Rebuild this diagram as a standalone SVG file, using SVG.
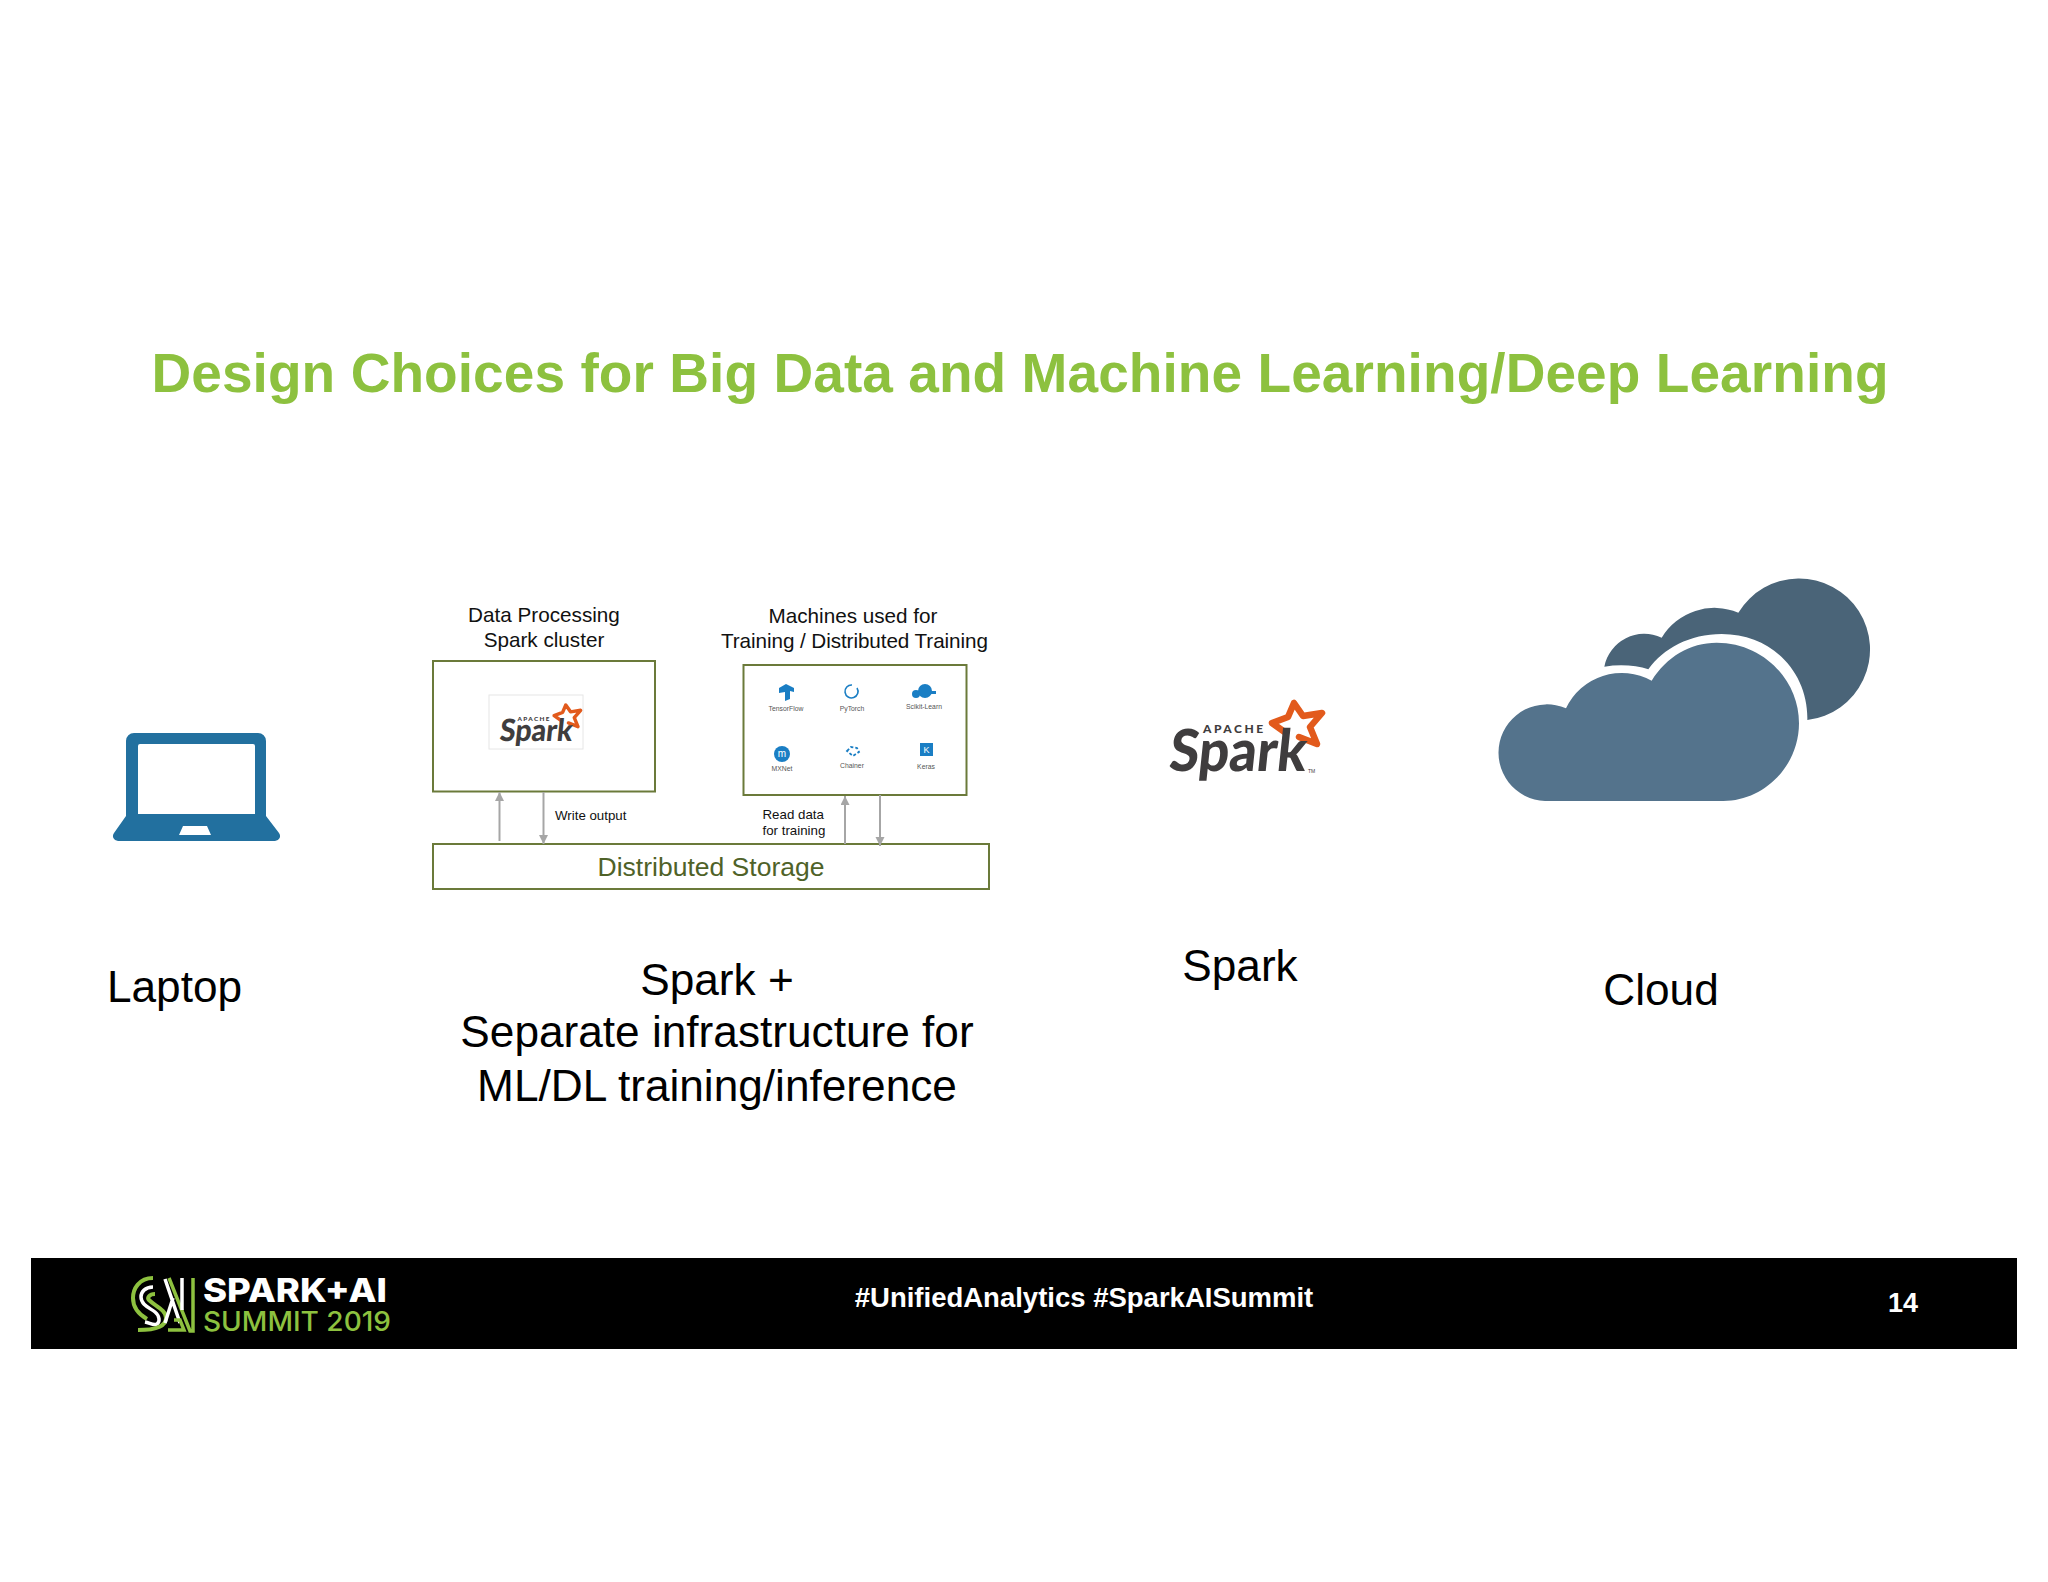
<svg xmlns="http://www.w3.org/2000/svg" width="2048" height="1582" viewBox="0 0 2048 1582">
<defs>
<style>
text{font-family:"Liberation Sans",Arial,sans-serif}
.t{font-size:44.200px;fill:#000;text-anchor:middle}
.h{font-size:20.700px;fill:#111;text-anchor:middle}
.s{font-size:13.300px;fill:#111}
.i{font-size:6.800px;fill:#555;text-anchor:middle}
.box{fill:#fff;stroke:#6b7a3a;stroke-width:2}
.blue{fill:#1a7ec4}
.ar{stroke:#a6a6a6;stroke-width:2;fill:none;marker-end:url(#ah)}
.sp{font-family:"Lato","Liberation Sans",sans-serif;font-weight:900;fill:#3f3d3e}
.star{fill:none;stroke:#e25a1c;stroke-width:6.500;stroke-linejoin:round;stroke-linecap:round}
.sa{fill:none}
.ft{font-family:Inter,"Liberation Sans",sans-serif}
</style>
<marker id="ah" markerWidth="10" markerHeight="10" refX="9" refY="4.500" orient="auto" markerUnits="userSpaceOnUse"><path d="M0,0L9,4.500L0,9Z" fill="#a6a6a6"/></marker>
</defs>
<rect width="2048" height="1582" fill="#fff"/>
<text id="title" x="1020" y="392" font-size="55" font-weight="700" fill="#8dc13f" text-anchor="middle" textLength="1737" lengthAdjust="spacing">Design Choices for Big Data and Machine Learning/Deep Learning</text>

<g id="laptop">
<path fill="#22709f" fill-rule="evenodd" d="M134,733H258a8,8 0 0 1 8,8V816L279,833a5,5 0 0 1 -4,8H118a5,5 0 0 1 -4,-8L126,816V741a8,8 0 0 1 8,-8ZM140,744a2,2 0 0 0 -2,2V814H255V746a2,2 0 0 0 -2,-2ZM183,826L179,835H211L207,826Z"/>
<text class="t" x="174.500" y="1002">Laptop</text>
</g>

<g id="spark-cluster">
<text class="h" x="544" y="622">Data Processing</text>
<text class="h" x="544" y="647">Spark cluster</text>
<rect class="box" x="433" y="661" width="222" height="130.500"/>
<rect x="489" y="695" width="94" height="54" fill="#fff" stroke="#e6e6e6"/>
<g transform="translate(499,741) scale(.53) translate(-1168,-771)">
<path class="star" d="M1299,737L1317,744L1310,727L1322,713L1303,716L1294,703L1288,717L1272,723L1286,733"/>
<text class="sp" x="1168" y="771" font-size="58" textLength="137" lengthAdjust="spacingAndGlyphs" transform="skewX(-6) translate(81,0)">Spark</text>
<text class="sp" x="1203" y="733" font-size="12" letter-spacing="2.500">APACHE</text>
</g>
</g>

<g id="ml-machines">
<text class="h" x="853" y="623">Machines used for</text>
<text class="h" x="854.500" y="648" textLength="267" lengthAdjust="spacing">Training / Distributed Training</text>
<rect class="box" x="743.500" y="665" width="223" height="130"/>
<path class="blue" d="M779,688L786,684L794,688V692L790,691V699L785,701V692L779,693Z"/>
<path d="M852,685A6.500,6.500 0 1 0 857,688" fill="none" stroke="#1a7ec4" stroke-width="1.600"/>
<circle class="blue" cx="916" cy="694" r="4"/><circle class="blue" cx="925" cy="691" r="7"/><rect class="blue" x="928" y="691" width="8" height="3"/>
<circle class="blue" cx="782" cy="754" r="8"/><text x="782" y="757" font-size="10" fill="#fff" text-anchor="middle">m</text>
<path d="M847,751L851,747L857,748L859,752L853,756Z" fill="none" stroke="#1a7ec4" stroke-width="1.800" stroke-dasharray="3 2"/>
<rect class="blue" x="920" y="743" width="13" height="13"/><text x="926.500" y="753" font-size="9" fill="#fff" text-anchor="middle">K</text>
<text class="i" x="786" y="711">TensorFlow</text>
<text class="i" x="852" y="711">PyTorch</text>
<text class="i" x="924" y="709">Scikit-Learn</text>
<text class="i" x="782" y="771">MXNet</text>
<text class="i" x="852" y="768">Chainer</text>
<text class="i" x="926" y="769">Keras</text>
</g>

<g id="storage">
<rect class="box" x="433" y="844" width="556" height="45"/>
<text x="711" y="876" font-size="26.500" fill="#4f6228" text-anchor="middle">Distributed Storage</text>
</g>

<g id="connectors">
<path class="ar" d="M499.500,841V792"/>
<path class="ar" d="M543.500,792V844"/>
<path class="ar" d="M845,844V796"/>
<path class="ar" d="M880,795V846"/>
</g>
<text class="s" x="555" y="820">Write output</text>
<text class="s" x="762.500" y="819">Read data</text>
<text class="s" x="762.500" y="835">for training</text>

<text class="t" x="717" y="995">Spark +</text>
<text class="t" x="717" y="1047">Separate infrastructure for</text>
<text class="t" x="717" y="1101">ML/DL training/inference</text>

<g id="spark">
<path class="star" d="M1299,737L1317,744L1310,727L1322,713L1303,716L1294,703L1288,717L1272,723L1286,733"/>
<text class="sp" x="1168" y="771" font-size="58" textLength="137" lengthAdjust="spacingAndGlyphs" transform="skewX(-6) translate(81,0)">Spark</text>
<text class="sp" x="1203" y="733" font-size="12" letter-spacing="2.500">APACHE</text>
<text x="1308" y="773" font-size="5" fill="#3f3d3e">TM</text>
<text class="t" x="1240" y="981">Spark</text>
</g>

<g id="cloud">
<g transform="translate(1480,560) scale(.33333)">
<path fill="#4a6478" d="M373,320A122,122 0 0 1 545,233A185,185 0 0 1 775,158A213,213 0 1 1 982,480C985,340 880,222 725,222C630,222 550,265 505,328C470,316 420,312 373,320Z"/>
<path fill="#54738c" d="M195,723A145,145 0 1 1 258,445A185,185 0 0 1 515,362C560,290 630,248 710,248C850,248 957,360 957,490C957,620 850,723 730,723Z"/>
</g>
<text class="t" x="1661" y="1005">Cloud</text>
</g>

<g id="footer">
<rect x="31" y="1258" width="1986" height="91" fill="#000"/>
<g class="sa">
<path stroke="#8dc13f" stroke-width="4" d="M153,1278C139,1278 133,1289 133,1298C133,1308 140,1315 147,1319"/>
<path stroke="#fff" stroke-width="3.500" d="M153,1287C145,1287 141,1292 141,1297C141,1305 150,1308 155,1312C160,1316 160,1322 157,1324C154,1326 150,1323 145,1322"/>
<path stroke="#8dc13f" stroke-width="4" d="M155,1294C149,1294 147,1298 149,1300C155,1306 166,1310 166,1318C166,1326 158,1330 138,1330"/>
<path stroke="#fff" stroke-width="3.500" d="M165,1279L180,1323M173,1298L165,1323"/>
<path stroke="#8dc13f" stroke-width="3.500" d="M169,1278L190,1331H193V1278M168,1330H184L180,1320H174"/>
<path stroke="#fff" stroke-width="3.500" d="M182,1278V1310"/>
</g>
<text class="ft" x="203" y="1302" font-size="33" font-weight="800" fill="#fff" textLength="184" lengthAdjust="spacingAndGlyphs">SPARK+AI</text>
<text class="ft" x="203" y="1331" font-size="27" font-weight="500" fill="#8dc13f" textLength="188" lengthAdjust="spacingAndGlyphs">SUMMIT 2019</text>
<text x="1084" y="1307" font-size="27.500" font-weight="700" fill="#fff" text-anchor="middle">#UnifiedAnalytics #SparkAISummit</text>
<text x="1903" y="1312" font-size="27" font-weight="700" fill="#fff" text-anchor="middle">14</text>
</g>
</svg>
